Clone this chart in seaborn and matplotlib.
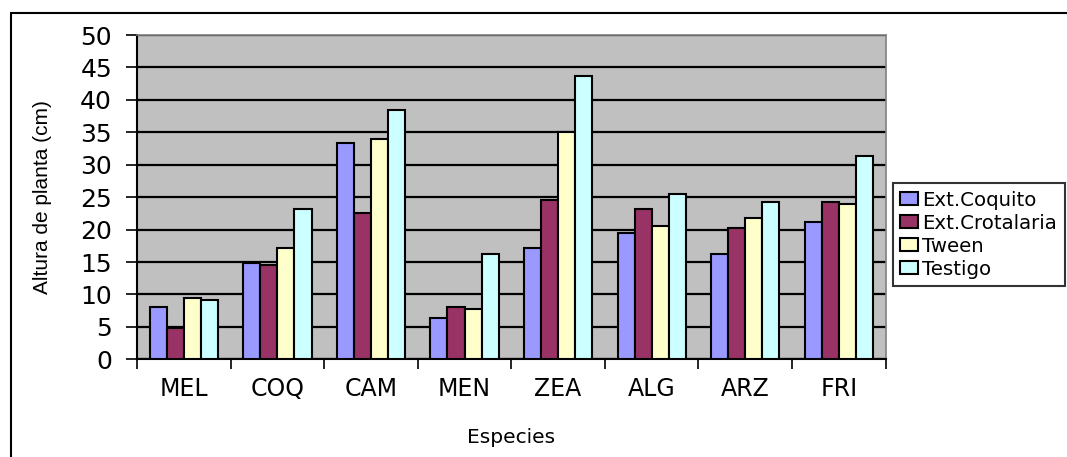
import pandas as pd
import numpy as np
import matplotlib
matplotlib.use("Agg")
import matplotlib.pyplot as plt
from matplotlib.lines import Line2D
import seaborn as sns

# Data
especies = ['MEL', 'COQ', 'CAM', 'MEN', 'ZEA', 'ALG', 'ARZ', 'FRI']
coquito = [8.0, 14.8, 33.3, 6.4, 17.2, 19.4, 16.3, 21.2]
crotalaria = [4.8, 14.5, 22.5, 8.0, 24.6, 23.1, 20.3, 24.3]
tween = [9.5, 17.2, 33.9, 7.7, 35.1, 20.6, 21.8, 24.0]
testigo = [9.2, 23.1, 38.5, 16.3, 43.7, 25.5, 24.3, 31.4]
series = ['Ext.Coquito', 'Ext.Crotalaria', 'Tween', 'Testigo']
colores = ['#9999FF', '#993366', '#FFFFCC', '#CCFFFF']

data = pd.DataFrame({
    'Especie': especies * 4,
    'Tratamiento': np.repeat(series, len(especies)),
    'Altura': coquito + crotalaria + tween + testigo,
})

sns.set_style('white')
plt.rcParams['font.family'] = ['DejaVu Sans']
plt.rcParams['text.color'] = 'black'
plt.rcParams['axes.labelcolor'] = 'black'
plt.rcParams['xtick.color'] = 'black'
plt.rcParams['ytick.color'] = 'black'

fig = plt.figure(figsize=(10.67, 4.57), dpi=100)
ax = fig.add_axes([0.1284, 0.2138, 0.7016, 0.7096])
ax.set_facecolor('#C0C0C0')

sns.barplot(data=data, x='Especie', y='Altura', hue='Tratamiento',
            hue_order=series, palette=colores, saturation=1, width=0.73,
            edgecolor='black', linewidth=1.5, ax=ax, zorder=3)

ax.set_ylim(0, 50)
ax.set_xlim(-0.5, len(especies) - 0.5)
ax.set_yticks(range(0, 51, 5))
ax.yaxis.grid(True, color='black', linewidth=1.6, zorder=1)
ax.set_axisbelow(True)
ax.tick_params(axis='y', labelsize=18, length=8, width=1.2, direction='out',
               left=True, pad=10)

# category labels centered, ticks at group boundaries
ax.set_xticks(range(len(especies)))
ax.set_xticklabels(especies)
ax.tick_params(axis='x', which='major', length=0, labelsize=17, pad=13)
ax.set_xticks(np.arange(-0.5, len(especies)), minor=True)
ax.tick_params(axis='x', which='minor', length=7.5, width=1.2,
               direction='out', bottom=True)

for side in ['left', 'bottom']:
    ax.spines[side].set_color('black')
    ax.spines[side].set_linewidth(1.5)
for side in ['top', 'right']:
    ax.spines[side].set_color('#808080')
    ax.spines[side].set_linewidth(1.2)

ax.set_ylabel('Altura de planta (cm)', fontsize=15,
              family=['Liberation Sans', 'DejaVu Sans'], labelpad=20)
ax.set_xlabel('Especies', fontsize=14.5, labelpad=19)

leg = ax.legend(loc='upper left', bbox_to_anchor=(1.0093, 0.544),
                fontsize=14.2, frameon=True, fancybox=False,
                handlelength=0.9, handleheight=0.65, handletextpad=0.2,
                labelspacing=0.2, borderpad=0.4, borderaxespad=0)
leg.get_frame().set_edgecolor('black')
leg.get_frame().set_linewidth(1.5)

# outer chart border (left and top only visible)
fig.add_artist(Line2D([11 / 1067, 11 / 1067], [0, 1 - 13 / 457],
                      color='black', linewidth=1.5))
fig.add_artist(Line2D([11 / 1067, 1], [1 - 13 / 457, 1 - 13 / 457],
                      color='black', linewidth=1.5))

fig.savefig('out.png', dpi=100)
